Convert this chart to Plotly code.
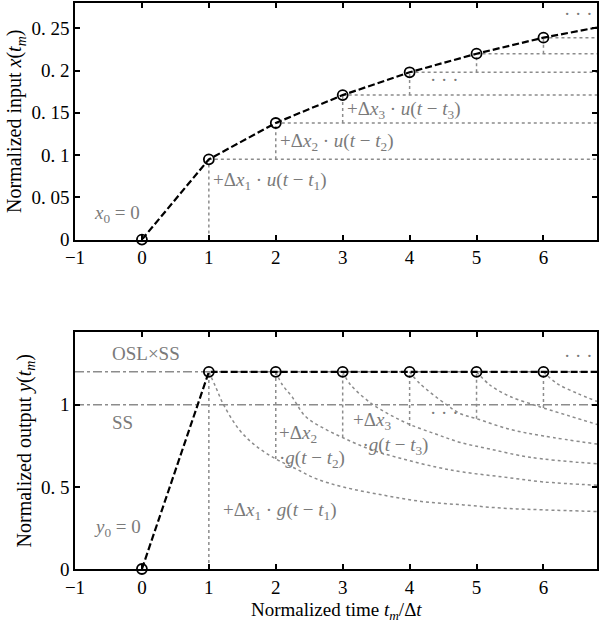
import plotly.graph_objects as go
from plotly.subplots import make_subplots

# --- data ---
t_steps = [0, 1, 2, 3, 4, 5, 6]
x_input = [0, 0.095, 0.138, 0.171, 0.198, 0.220, 0.239]
y_output = [0, 1.2, 1.2, 1.2, 1.2, 1.2, 1.2]
t_end = 6.8
x_end = 0.251
y_end = 1.2
osl_level = 1.2
ss_level = 1.0

# decaying step responses (cumulative), one per step t = 1..6
resp_t = [
    [1.0, 1.1, 1.22, 1.45, 1.7, 2.0, 2.3, 2.6, 3.0, 3.6, 4.2, 4.8, 5.4, 6.0, 6.8],
    [2.0, 2.1, 2.24, 2.44, 2.7, 3.0, 3.4, 3.9, 4.4, 4.8, 5.4, 6.0, 6.8],
    [3.0, 3.12, 3.42, 3.7, 4.0, 4.4, 4.76, 5.2, 5.8, 6.8],
    [4.0, 4.15, 4.55, 4.76, 5.0, 5.5, 6.0, 6.8],
    [5.0, 5.2, 5.5, 5.85, 6.0, 6.4, 6.8],
    [6.0, 6.2, 6.5, 6.8],
]
resp_y = [
    [1.2, 1.11, 1.0, 0.85, 0.75, 0.67, 0.61, 0.55, 0.50, 0.45, 0.41, 0.39, 0.37, 0.36, 0.35],
    [1.2, 1.12, 1.05, 0.93, 0.86, 0.80, 0.73, 0.67, 0.62, 0.59, 0.56, 0.53, 0.51],
    [1.2, 1.12, 1.01, 0.94, 0.88, 0.82, 0.77, 0.73, 0.68, 0.64],
    [1.2, 1.13, 1.0, 0.945, 0.915, 0.85, 0.81, 0.76],
    [1.2, 1.12, 1.05, 1.0, 0.98, 0.93, 0.88],
    [1.2, 1.13, 1.07, 1.02],
]
# lower end of the vertical dotted lines in the output plot at t = 1..6
y_step_base = [0, 0.67, 0.80, 0.87, 0.915, 0.98]

FONT = "Liberation Serif"
GRAY = "#7a7a7a"
DOT = "#8c8c8c"

fig = make_subplots(rows=2, cols=1)

# ---------- top: input ----------
hx, hy, vx, vy = [], [], [], []
for k in range(1, len(t_steps)):
    hx += [t_steps[k], t_end, None]
    hy += [x_input[k], x_input[k], None]
    vx += [t_steps[k], t_steps[k], None]
    vy += [x_input[k - 1], x_input[k], None]
fig.add_trace(go.Scatter(x=hx, y=hy, mode="lines", line=dict(color=DOT, width=1.5, dash="dot")), row=1, col=1)
fig.add_trace(go.Scatter(x=vx, y=vy, mode="lines", line=dict(color=DOT, width=1.5, dash="dot")), row=1, col=1)
fig.add_trace(go.Scatter(x=t_steps + [t_end], y=x_input + [x_end], mode="lines",
                         line=dict(color="black", width=2.2, dash="7px,3px")), row=1, col=1)
fig.add_trace(go.Scatter(x=t_steps, y=x_input, mode="markers", cliponaxis=False,
                         marker=dict(symbol="circle-open", size=10, color="black", line=dict(width=1.8))),
              row=1, col=1)

# ---------- bottom: output ----------
for level in [osl_level, ss_level]:
    fig.add_trace(go.Scatter(x=[-1, t_end], y=[level, level], mode="lines",
                             line=dict(color=DOT, width=1.5, dash="dashdot")), row=2, col=1)
for rt, ry in zip(resp_t, resp_y):
    fig.add_trace(go.Scatter(x=rt, y=ry, mode="lines", line_shape="spline",
                             line=dict(color=DOT, width=1.5, dash="dot")), row=2, col=1)
vx, vy = [], []
for k in range(1, len(t_steps)):
    vx += [t_steps[k], t_steps[k], None]
    vy += [y_step_base[k - 1], y_output[k], None]
fig.add_trace(go.Scatter(x=vx, y=vy, mode="lines", line=dict(color=DOT, width=1.5, dash="dot")), row=2, col=1)
fig.add_trace(go.Scatter(x=t_steps + [t_end], y=y_output + [y_end], mode="lines",
                         line=dict(color="black", width=2.2, dash="7px,3px")), row=2, col=1)
fig.add_trace(go.Scatter(x=t_steps, y=y_output, mode="markers", cliponaxis=False,
                         marker=dict(symbol="circle-open", size=10, color="black", line=dict(width=1.8))),
              row=2, col=1)

# ---------- text ----------
def note(x, y, text, ref="", anchor="left"):
    fig.add_annotation(x=x, y=y, xref="x" + ref, yref="y" + ref, text=text, showarrow=False,
                       xanchor=anchor, yanchor="middle", align="left",
                       font=dict(family=FONT, size=19, color=GRAY))

note(-0.75, 0.03, "<i>x</i><sub>0</sub> = 0")
note(1.03, 0.069, "+Δ<i>x</i><sub>1</sub> · <i>u</i>(<i>t</i> − <i>t</i><sub>1</sub>)")
note(2.03, 0.116, "+Δ<i>x</i><sub>2</sub> · <i>u</i>(<i>t</i> − <i>t</i><sub>2</sub>)")
note(3.03, 0.153, "+Δ<i>x</i><sub>3</sub> · <i>u</i>(<i>t</i> − <i>t</i><sub>3</sub>)")
note(4.28, 0.189, "· · ·")
note(6.27, 0.267, "· · ·")

note(-0.48, 1.31, "OSL×SS", "2")
note(-0.48, 0.89, "SS", "2")
note(-0.75, 0.25, "<i>y</i><sub>0</sub> = 0", "2")
note(1.18, 0.35, "+Δ<i>x</i><sub>1</sub> · <i>g</i>(<i>t</i> − <i>t</i><sub>1</sub>)", "2")
note(2.02, 0.745, "+Δ<i>x</i><sub>2</sub><br>·<i>g</i>(<i>t</i> − <i>t</i><sub>2</sub>)", "2")
note(3.13, 0.825, "+Δ<i>x</i><sub>3</sub><br>  ·<i>g</i>(<i>t</i> − <i>t</i><sub>3</sub>)", "2")
note(4.27, 0.95, "· · ·", "2")
note(6.27, 1.30, "· · ·", "2")

axis_common = dict(showline=True, linecolor="black", linewidth=1.5, mirror="ticks",
                   ticks="inside", ticklen=5, tickcolor="black", tickwidth=1.5,
                   showgrid=False, zeroline=False,
                   tickfont=dict(family=FONT, size=19, color="black"))

xticks = [-1, 0, 1, 2, 3, 4, 5, 6]
xlabels = ["−1", "0", "1", "2", "3", "4", "5", "6"]
fig.update_xaxes(range=[-1, t_end], tickvals=xticks, ticktext=xlabels, **axis_common)
fig.update_xaxes(domain=[0, 1], row=1, col=1)
fig.update_xaxes(domain=[0, 1], row=2, col=1)

# x title as a paper annotation so it sits clear of the tick labels
fig.add_annotation(x=0.5, y=-0.074, xref="paper", yref="paper", showarrow=False,
                   xanchor="center", yanchor="middle",
                   text="Normalized time <i>t<sub>m</sub></i>/Δ<i>t</i>",
                   font=dict(family=FONT, size=19, color="black"))

fig.update_yaxes(**axis_common)
fig.update_yaxes(domain=[0.582, 1], range=[0, 0.28],
                 tickvals=[0, 0.05, 0.1, 0.15, 0.2, 0.25],
                 ticktext=["0", "0. 05", "0. 1", "0. 15", "0. 2", "0. 25"],
                 title=dict(text="Normalized input <i>x</i>(<i>t<sub>m</sub></i>)",
                            font=dict(family=FONT, size=20, color="black"), standoff=4),
                 row=1, col=1)
fig.update_yaxes(domain=[0, 0.418], range=[0, 1.44],
                 tickvals=[0, 0.5, 1], ticktext=["0", "0. 5", "1"],
                 title=dict(text="Normalized output <i>y</i>(<i>t<sub>m</sub></i>)",
                            font=dict(family=FONT, size=20, color="black"), standoff=4),
                 row=2, col=1)

fig.update_layout(
    width=600, height=624,
    margin=dict(l=75, r=3, t=1, b=55),
    showlegend=False,
    plot_bgcolor="white",
    paper_bgcolor="white",
    font=dict(family=FONT),
)

fig.write_html("out.html", config={"displayModeBar": False},
               post_script="document.body.style.margin='0';document.body.style.overflow='hidden';")
